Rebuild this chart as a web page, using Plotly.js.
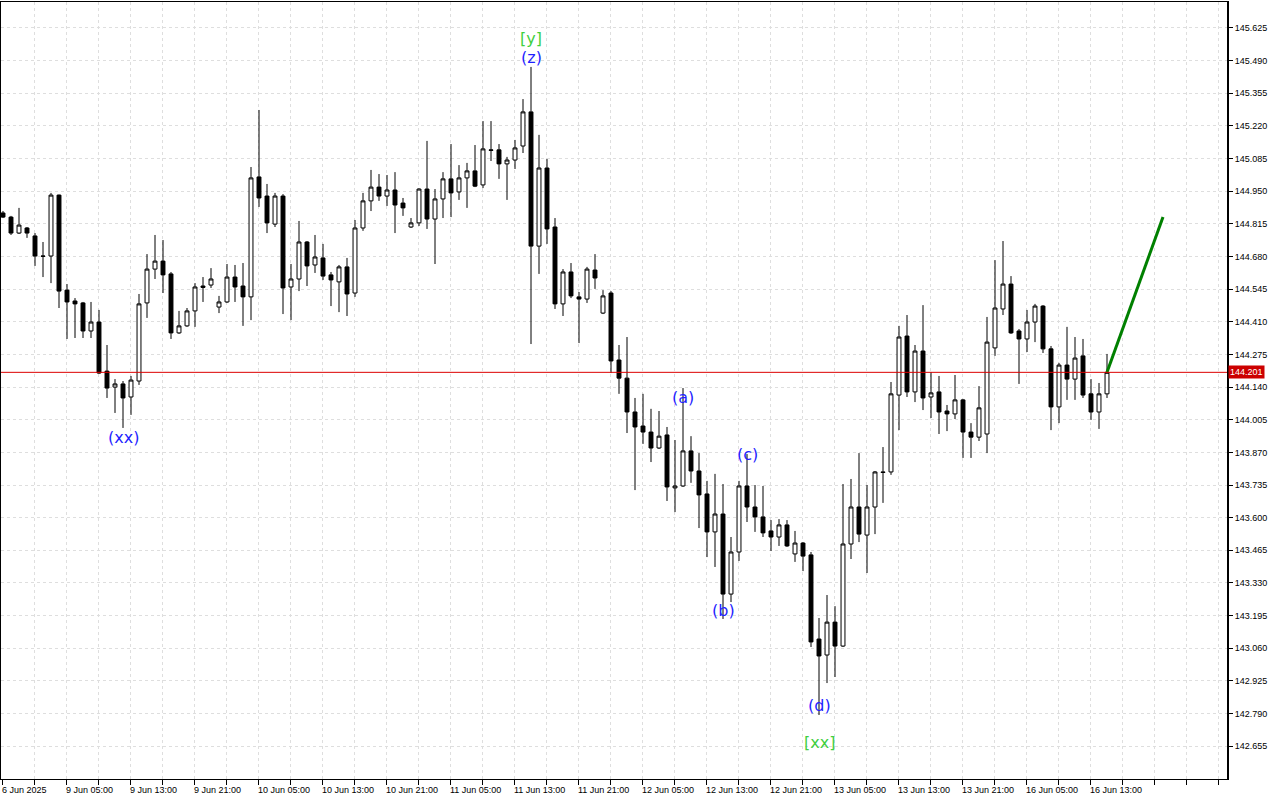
<!DOCTYPE html>
<html>
<head>
<meta charset="utf-8">
<script src="https://cdn.plot.ly/plotly-3.0.1.min.js"></script>
<style>html,body{margin:0;padding:0;background:#fff;}#chart{width:1280px;height:800px;}</style>
</head>
<body>
<div id="chart"></div>
<script>
// Hourly USDJPY-style candles, 6 Jun 2025 21:00 .. 16 Jun 2025
const open = [144.860,144.843,144.777,144.798,144.765,144.682,144.682,144.934,144.541,144.496,
144.488,144.372,144.409,144.206,144.140,144.153,144.099,144.165,144.488,144.628,
144.661,144.608,144.364,144.393,144.455,144.558,144.562,144.471,144.492,144.595,
144.558,144.513,145.009,144.930,144.814,144.930,144.554,144.587,144.740,144.645,
144.674,144.604,144.575,144.637,144.529,144.798,144.910,144.967,144.930,144.955,
144.901,144.802,144.819,144.959,144.835,144.918,145.001,144.947,145.005,145.034,
144.976,145.121,145.121,145.063,145.079,145.137,145.278,144.723,145.046,144.802,
144.484,144.616,144.513,144.504,144.624,144.446,144.529,144.252,144.177,144.037,
143.979,143.954,143.888,143.942,143.723,143.731,143.876,143.793,143.698,143.541,
143.615,143.284,143.458,143.731,143.644,143.603,143.545,143.520,143.570,143.450,
143.495,143.446,143.098,143.032,143.168,143.069,143.491,143.644,143.528,143.644,
143.789,143.789,144.107,144.351,144.120,144.289,144.099,144.120,144.041,144.029,
144.087,143.954,143.933,143.946,144.302,144.463,144.566,144.372,144.339,144.409,
144.475,144.298,144.058,144.231,144.173,144.269,144.112,144.037,144.112];
const high = [144.868,144.848,144.881,144.802,144.777,144.740,144.943,144.936,144.566,144.508,
144.492,144.492,144.459,144.314,144.173,144.165,144.186,144.525,144.690,144.769,
144.748,144.616,144.455,144.467,144.570,144.595,144.632,144.517,144.649,144.645,
144.653,145.050,145.286,144.980,144.943,144.938,144.649,144.827,144.744,144.769,
144.732,144.616,144.645,144.674,144.831,144.943,145.038,145.021,145.017,145.029,
144.922,144.839,144.962,145.158,144.959,145.029,145.145,145.058,145.067,145.141,
145.240,145.240,145.145,145.092,145.162,145.331,145.464,145.183,145.083,144.839,
144.628,144.653,144.533,144.637,144.690,144.541,144.537,144.314,144.347,144.095,
144.112,144.050,144.041,143.975,143.921,144.136,143.937,143.867,143.752,143.781,
143.739,143.520,143.752,143.863,143.735,143.731,143.590,143.594,143.590,143.545,
143.499,143.458,143.185,143.280,143.234,143.739,143.760,143.867,143.735,143.793,
143.892,144.161,144.393,144.438,144.314,144.479,144.202,144.186,144.066,144.190,
144.091,143.991,144.144,144.430,144.665,144.744,144.599,144.380,144.459,144.484,
144.479,144.310,144.240,144.389,144.347,144.339,144.173,144.157,144.277];
const low = [144.839,144.769,144.773,144.757,144.641,144.595,144.570,144.467,144.339,144.343,
144.343,144.343,144.194,144.095,144.033,143.971,144.025,144.149,144.426,144.587,
144.529,144.339,144.360,144.389,144.389,144.492,144.550,144.446,144.488,144.492,
144.393,144.417,144.885,144.777,144.802,144.442,144.417,144.537,144.558,144.612,
144.583,144.475,144.450,144.434,144.513,144.786,144.868,144.910,144.889,144.777,
144.848,144.798,144.806,144.794,144.649,144.839,144.843,144.914,144.881,144.967,
144.963,145.075,145.001,144.914,145.042,145.108,144.318,144.608,144.732,144.463,
144.434,144.508,144.322,144.488,144.546,144.442,144.198,144.112,143.950,143.714,
143.905,143.830,143.884,143.669,143.623,143.727,143.744,143.557,143.437,143.396,
143.181,143.251,143.421,143.582,143.541,143.520,143.462,143.483,143.479,143.417,
143.379,143.065,142.784,142.916,142.941,143.065,143.429,143.499,143.371,143.532,
143.661,143.777,143.962,144.099,144.078,144.045,144.012,143.946,143.958,144.008,
143.847,143.847,143.917,143.867,144.269,144.438,144.360,144.153,144.285,144.326,
144.281,143.962,143.991,144.087,144.087,144.095,144.004,143.967,144.095];
const close = [144.843,144.777,144.810,144.777,144.682,144.681,144.934,144.537,144.492,144.484,
144.372,144.409,144.198,144.136,144.153,144.095,144.169,144.484,144.628,144.661,
144.604,144.364,144.393,144.455,144.554,144.552,144.587,144.492,144.595,144.554,
144.513,145.005,144.922,144.819,144.930,144.550,144.587,144.740,144.641,144.678,
144.599,144.583,144.637,144.525,144.798,144.910,144.967,144.930,144.955,144.893,
144.881,144.819,144.959,144.835,144.918,145.001,144.943,145.005,145.034,144.971,
145.125,145.119,145.063,145.079,145.129,145.278,144.723,145.046,144.794,144.484,
144.616,144.517,144.504,144.628,144.591,144.517,144.248,144.177,144.037,143.975,
143.954,143.888,143.937,143.727,143.731,143.876,143.793,143.694,143.541,143.615,
143.284,143.458,143.731,143.644,143.603,143.537,143.520,143.570,143.483,143.495,
143.441,143.086,143.028,143.168,143.069,143.491,143.644,143.532,143.644,143.789,
143.787,144.112,144.347,144.120,144.289,144.095,144.116,144.037,144.029,144.087,
143.954,143.933,144.054,144.326,144.467,144.566,144.364,144.339,144.409,144.475,
144.298,144.058,144.231,144.173,144.260,144.107,144.037,144.112,144.201];

const xTickLabels = ["6 Jun 2025","9 Jun 05:00","9 Jun 13:00","9 Jun 21:00","10 Jun 05:00","10 Jun 13:00",
"10 Jun 21:00","11 Jun 05:00","11 Jun 13:00","11 Jun 21:00","12 Jun 05:00","12 Jun 13:00",
"12 Jun 21:00","13 Jun 05:00","13 Jun 13:00","13 Jun 21:00","16 Jun 05:00","16 Jun 13:00"];
const barsPerLabel = 8;

const yTicks = [142.655,142.790,142.925,143.060,143.195,143.330,143.465,143.600,143.735,143.870,
144.005,144.140,144.275,144.410,144.545,144.680,144.815,144.950,145.085,145.220,145.355,145.490,145.625];

const currentPrice = 144.201;

const forecastBar = [138,145];
const forecastPrice = [144.201,144.843];

const waveText  = ["(xx)","[y]","(z)","(a)","(b)","(c)","(d)","[xx]"];
const waveBar   = [15,66,66,85,90,93,102,102];
const wavePrice = [143.933,145.580,145.501,144.095,143.218,143.863,142.825,142.672];

const xs = open.map((_, i) => i);

const traces = [
  {
    type: 'candlestick', x: xs, open: open, high: high, low: low, close: close,
    increasing: {line: {color: '#000000', width: 1}, fillcolor: '#ffffff'},
    decreasing: {line: {color: '#000000', width: 1}, fillcolor: '#000000'},
    whiskerwidth: 0, hoverinfo: 'skip'
  },
  {
    type: 'scatter', mode: 'lines', x: forecastBar, y: forecastPrice,
    line: {color: '#008000', width: 3}, hoverinfo: 'skip'
  }
];

const gridBars = [];
for (let b = 0; b <= 152; b += 4) gridBars.push(b - 0.125);

const annotations = [];
xTickLabels.forEach((t, k) => {
  annotations.push({
    xref: 'x', yref: 'paper', x: k * barsPerLabel - 0.125, y: 0, yanchor: 'top', xanchor: 'left',
    yshift: -4, xshift: -2, text: t, showarrow: false,
    font: {family: 'Liberation Sans, Arial, sans-serif', size: 9, color: '#000'}
  });
});
waveText.forEach((t, k) => {
  annotations.push({
    xref: 'x', yref: 'y', x: waveBar[k], y: wavePrice[k], text: t, showarrow: false,
    xanchor: 'center', yanchor: 'middle',
    font: {family: 'DejaVu Sans, sans-serif', size: 16, color: t.startsWith('[') ? '#3fcf3f' : '#1f1fff'}
  });
});
annotations.push({
  xref: 'paper', yref: 'y', x: 1, y: currentPrice, xanchor: 'left', yanchor: 'middle', xshift: 1,
  text: currentPrice.toFixed(3), showarrow: false, bgcolor: '#cc0000', borderpad: 1,
  font: {family: 'Liberation Sans, Arial, sans-serif', size: 9, color: '#ffffff'}
});

const layout = {
  width: 1280, height: 800,
  margin: {l: 1, r: 53, t: 2, b: 21, pad: 0},
  paper_bgcolor: '#ffffff', plot_bgcolor: '#ffffff',
  showlegend: false,
  xaxis: {
    range: [-0.25, 153], tickmode: 'array', tickvals: gridBars, showticklabels: false,
    ticks: 'outside', ticklen: 5, tickcolor: '#000', tickwidth: 1,
    showgrid: true, gridcolor: '#dedede', griddash: '3px,3px', gridwidth: 1,
    showline: true, linecolor: '#000', linewidth: 1, mirror: true, zeroline: false,
    rangeslider: {visible: false}, fixedrange: true
  },
  yaxis: {
    side: 'right', range: [142.5192, 145.7325], tickmode: 'array', tickvals: yTicks,
    ticktext: yTicks.map(v => v.toFixed(3)),
    ticks: 'outside', ticklen: 4, tickcolor: '#000',
    tickfont: {family: 'Liberation Sans, Arial, sans-serif', size: 9, color: '#000'},
    showgrid: true, gridcolor: '#dedede', griddash: '3px,3px', gridwidth: 1,
    showline: true, linecolor: '#000', linewidth: 2, mirror: true, zeroline: false, fixedrange: true
  },
  shapes: [{
    type: 'line', xref: 'paper', yref: 'y', x0: 0, x1: 1, y0: currentPrice, y1: currentPrice,
    line: {color: '#dd0000', width: 1}
  }],
  annotations: annotations
};

Plotly.newPlot('chart', traces, layout, {staticPlot: true, displayModeBar: false});
</script>
</body>
</html>
